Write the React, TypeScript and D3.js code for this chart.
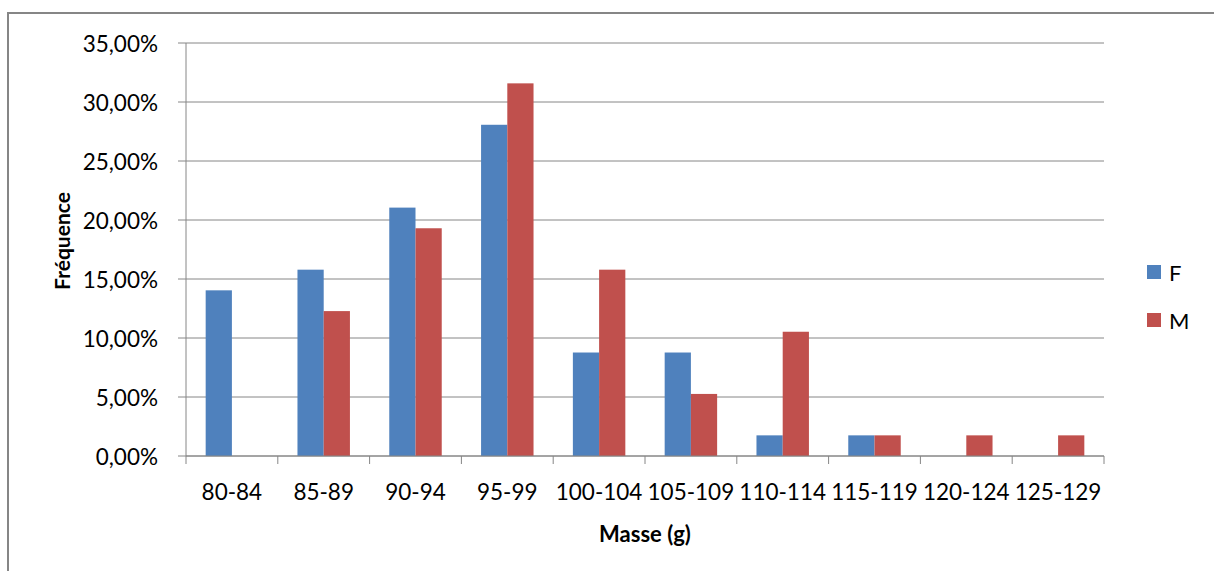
import React from "react";
import * as d3 from "d3";

// Mass classes (g) and relative frequencies (%) by sex
const categories = ["80-84", "85-89", "90-94", "95-99", "100-104", "105-109", "110-114", "115-119", "120-124", "125-129"];
const seriesNames = ["F", "M"];
const valuesF = [14.04, 15.79, 21.05, 28.07, 8.77, 8.77, 1.75, 1.75, 0, 0];
const valuesM = [0, 12.28, 19.3, 31.58, 15.79, 5.26, 10.53, 1.75, 1.75, 1.75];
const yTicks = [0, 5, 10, 15, 20, 25, 30, 35];
const colors = ["#4F81BD", "#C0504D"];

const W = 1214;
const H = 571;
const FONT = "Lato, 'Open Sans', sans-serif";
const GRID = "#868686";

export default function App() {
  const left = 186;
  const right = 1104;
  const top = 43;
  const bottom = 456;

  const x = d3.scaleBand<string>().domain(categories).range([left, right]).paddingInner(0).paddingOuter(0);
  // Excel-like 150% gap width: two bars + gap of 1.5 bar width per category
  const barW = x.bandwidth() / 3.5;
  const xs = d3.scaleBand<string>().domain(seriesNames).range([0.75 * barW, 2.75 * barW]);
  const y = d3.scaleLinear().domain([0, 35]).range([bottom, top]);

  const fmt = (v: number) => v.toFixed(2).replace(".", ",") + "%";
  const series = [valuesF, valuesM];

  return (
    <svg
      width={W}
      height={H}
      style={{ position: "absolute", left: 0, top: 0, background: "#fff" }}
    >
      {/* chart frame */}
      <rect x={8} y={13} width={W + 20} height={H + 20} fill="#fff" stroke={GRID} strokeWidth={2} />

      {/* horizontal gridlines with tick marks */}
      {yTicks.map((t) => (
        <g key={t}>
          <line x1={left - 8} x2={right} y1={y(t)} y2={y(t)} stroke={GRID} strokeWidth={1} />
          <text
            x={158}
            y={y(t)}
            textAnchor="end"
            dominantBaseline="central"
            fontFamily={FONT}
            fontSize={22.5}
            fill="#000"
          >
            {fmt(t)}
          </text>
        </g>
      ))}

      {/* value axis */}
      <line x1={left} x2={left} y1={top} y2={bottom} stroke={GRID} strokeWidth={1} />

      {/* bars */}
      {categories.map((c, i) =>
        series.map((vals, s) =>
          vals[i] > 0 ? (
            <rect
              key={c + s}
              x={(x(c) as number) + (xs(seriesNames[s]) as number)}
              y={y(vals[i])}
              width={xs.bandwidth()}
              height={bottom - y(vals[i])}
              fill={colors[s]}
            />
          ) : null
        )
      )}

      {/* category axis */}
      <line x1={left} x2={right} y1={bottom} y2={bottom} stroke={GRID} strokeWidth={1} />
      {d3.range(categories.length + 1).map((k) => {
        const xx = left + k * x.bandwidth();
        return <line key={k} x1={xx} x2={xx} y1={bottom} y2={bottom + 8} stroke={GRID} strokeWidth={1} />;
      })}
      {categories.map((c) => (
        <text
          key={c}
          x={(x(c) as number) + x.bandwidth() / 2}
          y={491}
          textAnchor="middle"
          dominantBaseline="central"
          fontFamily={FONT}
          fontSize={22.5}
          fill="#000"
        >
          {c}
        </text>
      ))}

      {/* axis titles */}
      <text
        x={(left + right) / 2}
        y={533}
        textAnchor="middle"
        dominantBaseline="central"
        fontFamily={FONT}
        fontSize={22}
        fontWeight="bold"
        fill="#000"
      >
        Masse (g)
      </text>
      <text
        transform={`translate(61, 241) rotate(-90)`}
        textAnchor="middle"
        dominantBaseline="central"
        fontFamily={FONT}
        fontSize={21}
        fontWeight="bold"
        fill="#000"
      >
        Fréquence
      </text>

      {/* legend */}
      {seriesNames.map((n, s) => (
        <g key={n} transform={`translate(1147, ${265 + s * 48})`}>
          <rect x={0} y={0} width={14} height={14} fill={colors[s]} />
          <text x={22} y={7} dominantBaseline="central" fontFamily={FONT} fontSize={22} fill="#000">
            {n}
          </text>
        </g>
      ))}
    </svg>
  );
}
